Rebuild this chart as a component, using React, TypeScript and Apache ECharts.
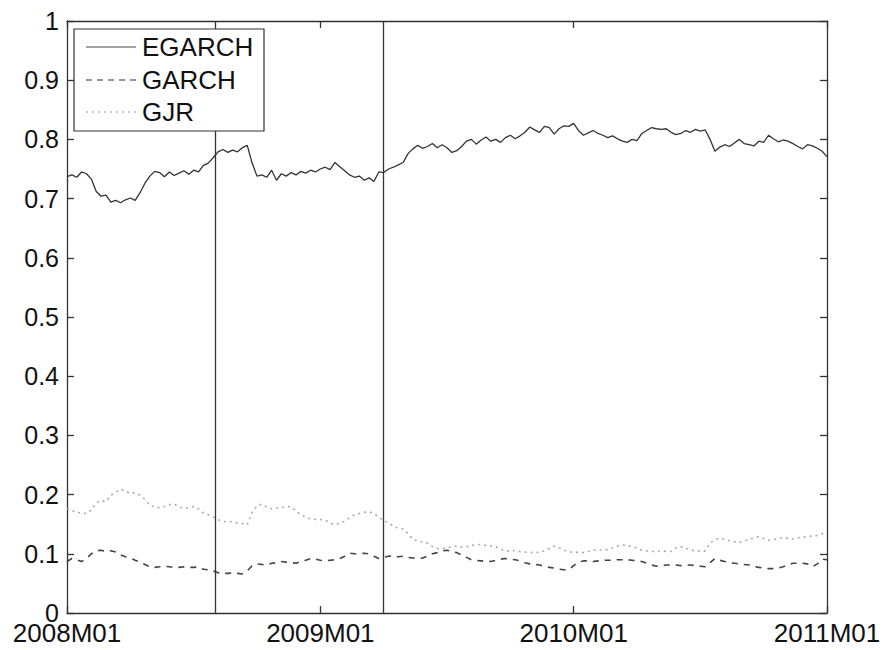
import React, { useEffect, useRef } from "react";
import * as echarts from "echarts";

// Weekly observations, week 0 = 2008M01, week 156 = 2011M01
const xTickLabels = ["2008M01", "2009M01", "2010M01", "2011M01"];
const yTicks = [0, 0.1, 0.2, 0.3, 0.4, 0.5, 0.6, 0.7, 0.8, 0.9, 1];
const seriesNames = ["EGARCH", "GARCH", "GJR"];
const breakWeeks = [30.4, 65.0]; // 2008M08 and 2009M04

const egarch = [
  0.737, 0.740, 0.736, 0.745, 0.742, 0.733, 0.712, 0.704, 0.706, 0.694,
  0.697, 0.693, 0.698, 0.701, 0.697, 0.710, 0.726, 0.738, 0.746, 0.744,
  0.737, 0.745, 0.739, 0.743, 0.747, 0.741, 0.748, 0.745, 0.756, 0.760,
  0.769, 0.779, 0.783, 0.778, 0.782, 0.779, 0.786, 0.790, 0.760, 0.738,
  0.740, 0.736, 0.748, 0.731, 0.742, 0.738, 0.744, 0.740, 0.746, 0.743,
  0.748, 0.745, 0.750, 0.753, 0.749, 0.761, 0.754, 0.747, 0.740, 0.736,
  0.738, 0.731, 0.735, 0.729, 0.745, 0.744, 0.750, 0.753, 0.757, 0.761,
  0.776, 0.784, 0.790, 0.785, 0.788, 0.793, 0.786, 0.791, 0.786, 0.778,
  0.781, 0.788, 0.797, 0.800, 0.792, 0.799, 0.804, 0.797, 0.800, 0.795,
  0.803, 0.807, 0.801, 0.806, 0.812, 0.821, 0.816, 0.812, 0.822, 0.820,
  0.809, 0.818, 0.823, 0.822, 0.827, 0.815, 0.807, 0.811, 0.815, 0.810,
  0.807, 0.803, 0.806, 0.801, 0.797, 0.795, 0.800, 0.798, 0.810, 0.815,
  0.820, 0.818, 0.817, 0.818, 0.812, 0.808, 0.810, 0.815, 0.812, 0.817,
  0.814, 0.816, 0.800, 0.780, 0.787, 0.791, 0.788, 0.794, 0.800, 0.793,
  0.791, 0.789, 0.797, 0.795, 0.807, 0.801, 0.796, 0.799, 0.797, 0.793,
  0.788, 0.784, 0.791, 0.789, 0.785, 0.780, 0.771,
];

const garch = [
  0.087, 0.092, 0.090, 0.087, 0.092, 0.100, 0.105, 0.106, 0.104, 0.105,
  0.103, 0.098, 0.095, 0.093, 0.089, 0.086, 0.082, 0.078, 0.077, 0.078,
  0.079, 0.078, 0.077, 0.077, 0.078, 0.077, 0.077, 0.078, 0.074, 0.073,
  0.071, 0.068, 0.067, 0.067, 0.068, 0.067, 0.066, 0.071, 0.080, 0.083,
  0.082, 0.081, 0.084, 0.085, 0.087, 0.086, 0.085, 0.084, 0.087, 0.089,
  0.092, 0.091, 0.089, 0.088, 0.089, 0.090, 0.092, 0.096, 0.101, 0.100,
  0.100, 0.101, 0.100, 0.096, 0.092, 0.094, 0.096, 0.096, 0.095, 0.096,
  0.094, 0.093, 0.092, 0.093, 0.096, 0.100, 0.102, 0.105, 0.106, 0.104,
  0.102, 0.098, 0.094, 0.090, 0.089, 0.088, 0.088, 0.087, 0.089, 0.091,
  0.092, 0.091, 0.090, 0.088, 0.085, 0.083, 0.082, 0.081, 0.079, 0.077,
  0.076, 0.074, 0.073, 0.073, 0.080, 0.086, 0.088, 0.088, 0.087, 0.088,
  0.089, 0.089, 0.089, 0.090, 0.090, 0.090, 0.089, 0.088, 0.087, 0.084,
  0.081, 0.079, 0.080, 0.081, 0.081, 0.081, 0.080, 0.081, 0.081, 0.080,
  0.079, 0.078, 0.085, 0.092, 0.089, 0.087, 0.085, 0.084, 0.083, 0.082,
  0.081, 0.079, 0.077, 0.076, 0.075, 0.075, 0.076, 0.078, 0.081, 0.084,
  0.084, 0.084, 0.083, 0.078, 0.083, 0.091, 0.090,
];

const gjr = [
  0.177, 0.173, 0.170, 0.169, 0.168, 0.174, 0.186, 0.190, 0.188, 0.199,
  0.204, 0.209, 0.206, 0.202, 0.203, 0.199, 0.192, 0.182, 0.179, 0.178,
  0.180, 0.183, 0.184, 0.179, 0.177, 0.178, 0.180, 0.176, 0.169, 0.166,
  0.162, 0.158, 0.154, 0.155, 0.154, 0.152, 0.151, 0.149, 0.170, 0.181,
  0.184, 0.179, 0.176, 0.177, 0.178, 0.179, 0.180, 0.172, 0.166, 0.162,
  0.159, 0.158, 0.158, 0.157, 0.152, 0.149, 0.152, 0.155, 0.161, 0.166,
  0.168, 0.170, 0.171, 0.168, 0.162, 0.156, 0.152, 0.147, 0.143, 0.142,
  0.134, 0.124, 0.122, 0.120, 0.118, 0.112, 0.109, 0.109, 0.110, 0.112,
  0.113, 0.111, 0.112, 0.114, 0.115, 0.116, 0.114, 0.113, 0.112, 0.108,
  0.104, 0.106, 0.105, 0.104, 0.103, 0.102, 0.103, 0.102, 0.105, 0.109,
  0.113, 0.110, 0.106, 0.104, 0.102, 0.103, 0.102, 0.104, 0.106, 0.106,
  0.107, 0.107, 0.110, 0.113, 0.115, 0.114, 0.112, 0.110, 0.106, 0.105,
  0.104, 0.104, 0.105, 0.104, 0.104, 0.110, 0.112, 0.109, 0.107, 0.104,
  0.105, 0.105, 0.118, 0.124, 0.126, 0.125, 0.122, 0.120, 0.119, 0.122,
  0.124, 0.127, 0.129, 0.126, 0.123, 0.124, 0.126, 0.127, 0.126, 0.125,
  0.127, 0.128, 0.129, 0.130, 0.131, 0.134, 0.136,
];

const FONT = "Liberation Sans";

function makeAxis(extra: any) {
  return {
    min: 0,
    splitLine: { show: false },
    axisLine: { show: true, onZero: false, lineStyle: { color: "#333", width: 1.3 } },
    axisTick: { show: true, inside: true, length: 7, lineStyle: { color: "#333", width: 1.3 } },
    ...extra,
  };
}

export default function App() {
  const ref = useRef<HTMLDivElement>(null);
  useEffect(() => {
    if (!ref.current) return;
    const chart = echarts.init(ref.current, null, { renderer: "svg" });
    const weeksPerYear = 52;
    const toPairs = (arr: number[]) => arr.map((v, i) => [i, v]);
    const legendStyles = [
      { stroke: "#444", lineWidth: 1.2, lineDash: null as any },
      { stroke: "#777", lineWidth: 1.3, lineDash: [6, 5] },
      { stroke: "#bbb", lineWidth: 1.3, lineDash: [2, 4] },
    ];
    const legendRowY = [47, 80, 112];
    const legendGraphics: any[] = [
      {
        type: "rect",
        z: 100,
        shape: { x: 74, y: 29, width: 190, height: 102 },
        style: { fill: "#fff", stroke: "#333", lineWidth: 1.2 },
      },
    ];
    seriesNames.forEach((name, i) => {
      legendGraphics.push({
        type: "line",
        z: 101,
        shape: { x1: 86, y1: legendRowY[i], x2: 136, y2: legendRowY[i] },
        style: legendStyles[i],
      });
      legendGraphics.push({
        type: "text",
        z: 101,
        x: 142,
        y: legendRowY[i],
        style: {
          text: name,
          fontFamily: FONT,
          fontSize: 26,
          fill: "#111",
          verticalAlign: "middle",
          align: "left",
        },
      });
    });
    chart.setOption({
      animation: false,
      backgroundColor: "#fff",
      textStyle: { fontFamily: FONT },
      grid: { left: 67, top: 21, right: 58, bottom: 37, containLabel: false },
      graphic: legendGraphics,
      xAxis: [
        makeAxis({
          type: "value",
          max: 156,
          interval: weeksPerYear,
          position: "bottom",
          axisLabel: {
            show: true,
            fontSize: 26,
            color: "#111",
            fontFamily: FONT,
            margin: 7,
            formatter: (v: number) => xTickLabels[Math.round(v / weeksPerYear)] ?? "",
          },
        }),
        makeAxis({
          type: "value",
          max: 156,
          interval: weeksPerYear,
          position: "top",
          axisLabel: { show: false },
        }),
      ],
      yAxis: [
        makeAxis({
          type: "value",
          max: 1,
          interval: 0.1,
          position: "left",
          axisLabel: {
            show: true,
            fontSize: 25,
            color: "#111",
            fontFamily: FONT,
            margin: 8,
            formatter: (v: number) => {
              const t = yTicks.find((y) => Math.abs(y - v) < 1e-6);
              return t === undefined ? "" : String(t);
            },
          },
        }),
        makeAxis({
          type: "value",
          max: 1,
          interval: 0.1,
          position: "right",
          axisLabel: { show: false },
        }),
      ],
      series: [
        {
          name: "EGARCH",
          type: "line",
          data: toPairs(egarch),
          symbol: "none",
          lineStyle: { color: "#333", width: 1.3, type: "solid" },
          itemStyle: { color: "#333" },
          z: 3,
          markLine: {
            silent: true,
            symbol: ["none", "none"],
            label: { show: false },
            lineStyle: { color: "#333", width: 1.3, type: "solid" },
            data: breakWeeks.map((w) => ({ xAxis: w })),
          },
        },
        {
          name: "GARCH",
          type: "line",
          data: toPairs(garch),
          symbol: "none",
          lineStyle: { color: "#444", width: 1.6, type: [6, 6] },
          itemStyle: { color: "#444" },
          z: 2,
        },
        {
          name: "GJR",
          type: "line",
          data: toPairs(gjr),
          symbol: "none",
          lineStyle: { color: "#aaa", width: 1.6, type: [2, 4] },
          itemStyle: { color: "#aaa" },
          z: 2,
        },
      ],
    });
    return () => chart.dispose();
  }, []);
  return (
    <div
      ref={ref}
      style={{ position: "fixed", left: 0, top: 0, width: 885, height: 650, background: "#fff" }}
    />
  );
}
